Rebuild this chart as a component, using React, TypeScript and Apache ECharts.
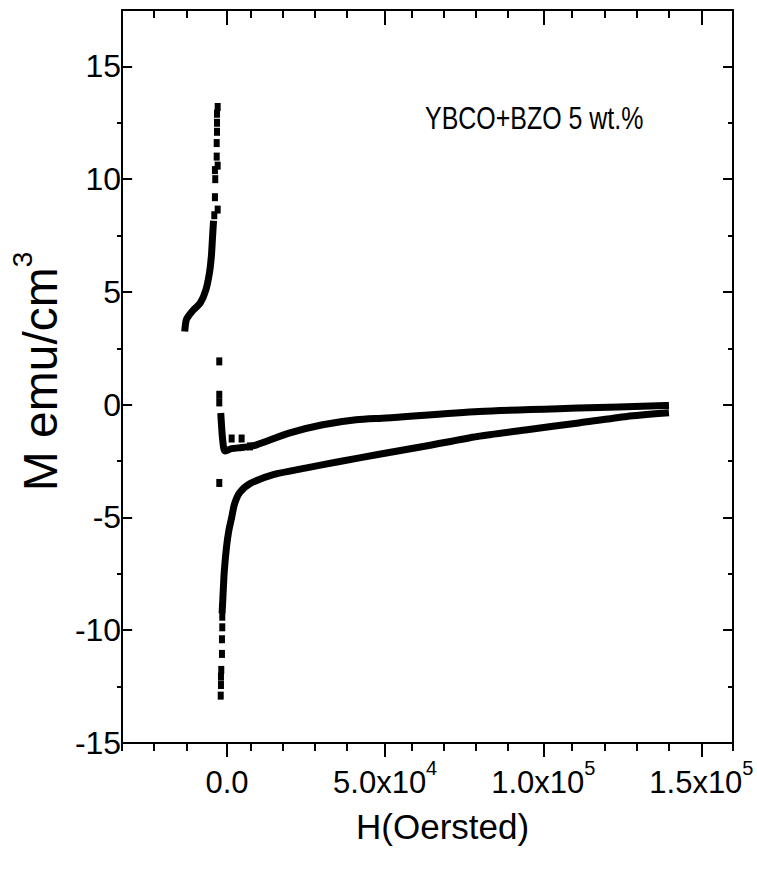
import React, { useEffect, useRef } from 'react';
import * as echarts from 'echarts';

// Axis ranges and ticks
const X_MIN = -30000;
const X_MAX = 160000;
const Y_MIN = -15;
const Y_MAX = 17.5;
const X_MAJOR = [0, 50000, 100000, 150000];
const X_MAJOR_TEXT = ['0.0', '5.0x10', '1.0x10', '1.5x10'];
const X_MAJOR_EXP = ['', '4', '5', '5'];
const X_MINOR = [-30000, -20000, -10000, 10000, 20000, 30000, 40000, 60000, 70000, 80000, 90000, 110000, 120000, 130000, 140000, 160000];
const Y_MAJOR = [-15, -10, -5, 0, 5, 10, 15];
const Y_MINOR = [-12.5, -7.5, -2.5, 2.5, 7.5, 12.5];

// Upper-left branch (negative field), continuous part
const H_UP_LEFT = [-10400, -9900, -7800, -5700, -3900, -2800, -2200, -1900, -1600];
const M_UP_LEFT = [3.4, 3.8, 4.2, 4.5, 5.1, 5.85, 6.6, 7.3, 8.0];
// Upper-left branch, sparse points near H=0
const H_UP_DOTS = [-1300, -250, -1100, -1000, -1100, -250, -550, -550, -450, -450, -450, -250];
const M_UP_DOTS = [8.4, 8.65, 9.2, 10.0, 10.4, 10.6, 11.0, 11.6, 12.1, 12.5, 12.9, 13.2];
// Isolated points at H~0
const H_MID_DOTS = [250, 250, 250, 250];
const M_MID_DOTS = [1.92, 0.44, 0.1, -3.47];
// Return branch (upper, positive field)
const H_RET = [775, 1300, 2000, 4100, 7200, 9800, 11850, 22200, 32400, 42800, 52100, 81000, 112000, 139000];
const M_RET = [-0.52, -1.55, -2.05, -1.95, -1.9, -1.85, -1.78, -1.25, -0.89, -0.67, -0.59, -0.3, -0.15, -0.04];
const H_RET_DOTS = [4100, 7200, 9800];
const M_RET_DOTS = [-1.5, -1.5, -1.85];
// Lower branch, sparse points near H=0
const H_LOW_DOTS = [700, 775, 775, 870, 1085, 1085, 1180, 1180];
const M_LOW_DOTS = [-12.9, -12.43, -12.06, -11.76, -11.05, -10.4, -9.87, -9.4];
// Lower branch, continuous
const H_LOW = [1180, 1500, 1800, 2500, 3200, 4100, 5000, 6600, 9800, 17050, 27400, 37700, 50000, 65000, 80500, 96000, 112000, 127000, 139000];
const M_LOW = [-9.1, -8.2, -7.4, -6.3, -5.6, -5.0, -4.4, -3.9, -3.5, -3.1, -2.8, -2.52, -2.2, -1.82, -1.41, -1.11, -0.81, -0.52, -0.37];

const ANNOTATION = 'YBCO+BZO 5 wt.%';
const X_TITLE = 'H(Oersted)';

const SANS = "'Liberation Sans', Arial, sans-serif";

const zip = (xs: number[], ys: number[]) => xs.map((x, i) => [x, ys[i]]);

const GRID = { left: 122, right: 24, top: 10, bottom: 139 };
const BLACK = '#000';

function xAxisDef(gridIndex: number, position: 'top' | 'bottom', ticks: number[], len: number, inside: boolean, showLine: boolean, labels: boolean, name?: string) {
  return {
    type: 'value', gridIndex, position, min: X_MIN, max: X_MAX,
    axisLine: { show: showLine, onZero: false, lineStyle: { color: BLACK, width: 2 } },
    axisTick: { show: true, inside, length: len, customValues: ticks, lineStyle: { color: BLACK, width: 2 } },
    splitLine: { show: false },
    axisLabel: labels
      ? {
          show: true,
          customValues: X_MAJOR,
          margin: 15,
          formatter: (v: number) => {
            const i = X_MAJOR.indexOf(v);
            if (i < 0) return '';
            return X_MAJOR_EXP[i] ? `{b|${X_MAJOR_TEXT[i]}}{s|${X_MAJOR_EXP[i]}}` : `{b|${X_MAJOR_TEXT[i]}}`;
          },
          rich: {
            b: { fontFamily: SANS, fontSize: 31, color: BLACK, lineHeight: 40, verticalAlign: 'bottom' },
            s: { fontFamily: SANS, fontSize: 20, color: BLACK, lineHeight: 20, verticalAlign: 'top' },
          },
        }
      : { show: false },
    ...(name
      ? {
          name,
          nameLocation: 'middle',
          nameGap: 66,
          nameTextStyle: { fontFamily: SANS, fontSize: 35, color: BLACK, padding: [0, 0, 0, 20] },
        }
      : {}),
  };
}

function yAxisDef(gridIndex: number, position: 'left' | 'right', ticks: number[], len: number, inside: boolean, showLine: boolean, labels: boolean, withName?: boolean) {
  return {
    type: 'value', gridIndex, position, min: Y_MIN, max: Y_MAX,
    axisLine: { show: showLine, onZero: false, lineStyle: { color: BLACK, width: 2 } },
    axisTick: { show: true, inside, length: len, customValues: ticks, lineStyle: { color: BLACK, width: 2 } },
    splitLine: { show: false },
    axisLabel: labels
      ? { show: true, customValues: Y_MAJOR, margin: 11, fontFamily: SANS, fontSize: 32, color: BLACK, formatter: (v: number) => String(v) }
      : { show: false },
    ...(withName
      ? {
          name: '{a|M emu/cm}{s|3}',
          nameLocation: 'middle',
          nameGap: 54,
          nameTextStyle: {
            padding: [0, 0, 0, 10],
            rich: {
              a: { fontFamily: SANS, fontSize: 48, color: BLACK, lineHeight: 56, verticalAlign: 'bottom' },
              s: { fontFamily: SANS, fontSize: 28, color: BLACK, lineHeight: 28, verticalAlign: 'top' },
            },
          },
        }
      : {}),
  };
}

const lineSeries = (name: string, data: number[][]) => ({
  name, type: 'line', xAxisIndex: 0, yAxisIndex: 0, data,
  showSymbol: false, symbol: 'none', smooth: 0.25,
  lineStyle: { color: BLACK, width: 7, cap: 'square', join: 'round' },
  z: 5,
});
const dotSeries = (name: string, data: number[][]) => ({
  name, type: 'scatter', xAxisIndex: 0, yAxisIndex: 0, data,
  symbol: 'rect', symbolSize: [6, 8],
  itemStyle: { color: BLACK, opacity: 1 },
  z: 5,
});

export default function App() {
  const ref = useRef<HTMLDivElement>(null);
  useEffect(() => {
    const chart = echarts.init(ref.current!, null, { renderer: 'svg' });
    chart.setOption({
      animation: false,
      backgroundColor: '#fff',
      grid: [
        { ...GRID },
        { ...GRID },
      ],
      xAxis: [
        xAxisDef(0, 'bottom', X_MINOR, 8, false, true, false),
        xAxisDef(0, 'top', X_MINOR, 8, true, true, false),
        xAxisDef(1, 'bottom', X_MAJOR, 14, false, false, true, X_TITLE),
        xAxisDef(1, 'top', X_MAJOR, 15, true, false, false),
      ],
      yAxis: [
        yAxisDef(0, 'left', Y_MINOR, 5, false, true, false),
        yAxisDef(0, 'right', Y_MINOR, 5, true, true, false),
        yAxisDef(1, 'left', Y_MAJOR, 10, false, false, true, true),
        yAxisDef(1, 'right', Y_MAJOR, 10, true, false, false),
      ],
      series: [
        lineSeries('upLeft', zip(H_UP_LEFT, M_UP_LEFT)),
        dotSeries('upDots', zip(H_UP_DOTS, M_UP_DOTS)),
        dotSeries('midDots', zip(H_MID_DOTS, M_MID_DOTS)),
        lineSeries('return', zip(H_RET, M_RET)),
        dotSeries('retDots', zip(H_RET_DOTS, M_RET_DOTS)),
        dotSeries('lowDots', zip(H_LOW_DOTS, M_LOW_DOTS)),
        lineSeries('lower', zip(H_LOW, M_LOW)),
      ],
      graphic: [
        {
          type: 'text', x: 425, y: 118, scaleX: 0.78,
          style: { text: ANNOTATION, fontFamily: SANS, fontSize: 32, fill: BLACK, textAlign: 'left', textVerticalAlign: 'middle' },
        },
      ],
    });
    return () => chart.dispose();
  }, []);
  return <div ref={ref} style={{ position: 'absolute', left: 0, top: 0, width: 757, height: 882, background: '#fff' }} />;
}
